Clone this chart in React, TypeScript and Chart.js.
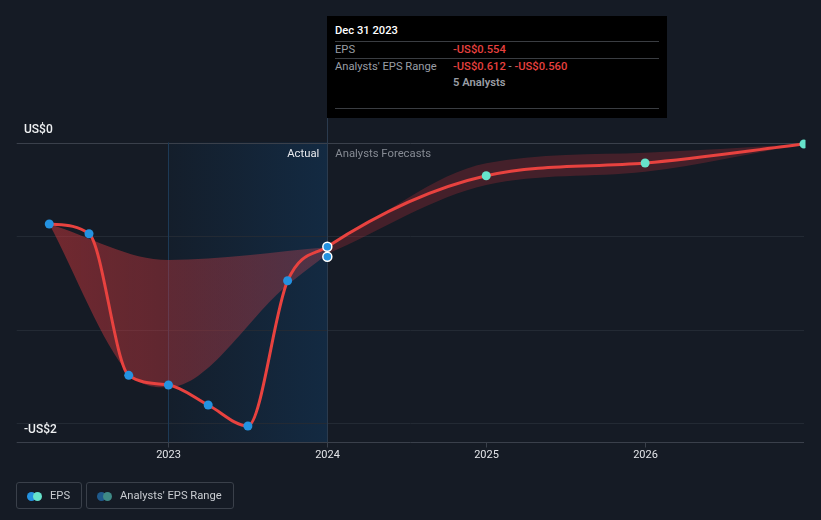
import React, { useEffect, useRef } from "react";
import { Chart, registerables } from "chart.js";

Chart.register(...registerables);

// ---- data (decimal years / US$ EPS) ----
const actualDates = [2022.25, 2022.5, 2022.75, 2023.0, 2023.25, 2023.5, 2023.75, 2024.0];
const actualEps = [-0.544, -0.609, -1.555, -1.619, -1.753, -1.893, -0.923, -0.696];
const forecastDates = [2025.0, 2026.0, 2027.0];
const forecastEps = [-0.222, -0.137, -0.01];
const estimateDates = [2024.0];
const estimateEps = [-0.763];
const rangeHighDates = [2022.25, 2023.0, 2024.0];
const rangeHigh = [-0.544, -0.785, -0.7];
const rangeLowDates = [2022.25, 2022.75, 2023.0, 2023.75, 2024.0];
const rangeLow = [-0.544, -1.539, -1.635, -0.952, -0.745];
const forecastRangeDates = [2024.0, 2025.0, 2026.0, 2027.0];
const forecastHigh = [-0.7, -0.139, -0.068, -0.01];
const forecastLow = [-0.745, -0.284, -0.195, -0.01];
const yearTicks = [2023, 2024, 2025, 2026];
const yearLabels = ["2023", "2024", "2025", "2026"];
const yGridValues = [0, -0.625, -1.25, -1.875];
const yLabelValues = [0, -2];
const yLabelTexts = ["US$0", "-US$2"];
const actualStart = 2023;
const actualEnd = 2024;

const FONT = "Roboto, 'Noto Sans', sans-serif";

const zip = (xs: number[], ys: number[]) => xs.map((x, i) => ({ x, y: ys[i] }));

const decorPlugin = {
  id: "decor",
  beforeDatasetsDraw(chart: any) {
    const { ctx, chartArea: a, scales } = chart;
    const xs = scales.x;
    const ys = scales.y;
    ctx.save();
    // highlighted "actual" region
    const x0 = xs.getPixelForValue(actualStart);
    const x1 = xs.getPixelForValue(actualEnd);
    const g = ctx.createLinearGradient(x0, 0, x1, 0);
    g.addColorStop(0, "#141e2b");
    g.addColorStop(1, "#132a42");
    ctx.fillStyle = g;
    ctx.fillRect(x0, a.top, x1 - x0, a.bottom - a.top);
    // grid lines
    yGridValues.forEach((v, i) => {
      const y = Math.round(ys.getPixelForValue(v)) + 0.5;
      ctx.strokeStyle = i === 0 ? "#3a404b" : "#232a34";
      ctx.lineWidth = 1;
      ctx.beginPath();
      ctx.moveTo(a.left, y);
      ctx.lineTo(a.right, y);
      ctx.stroke();
    });
    // axis line
    const yb = Math.round(ys.getPixelForValue(-2)) + 0.5;
    ctx.strokeStyle = "#3a404b";
    ctx.beginPath();
    ctx.moveTo(a.left, yb);
    ctx.lineTo(a.right, yb);
    ctx.stroke();
    // region boundary lines
    ctx.strokeStyle = "#1d3a56";
    ctx.beginPath();
    ctx.moveTo(Math.round(x0) + 0.5, a.top);
    ctx.lineTo(Math.round(x0) + 0.5, yb);
    ctx.stroke();
    ctx.strokeStyle = "#2b3b4e";
    ctx.beginPath();
    ctx.moveTo(Math.round(x1) + 0.5, 118);
    ctx.lineTo(Math.round(x1) + 0.5, yb);
    ctx.stroke();
    // year ticks & labels
    ctx.font = `11px ${FONT}`;
    ctx.textAlign = "center";
    ctx.textBaseline = "middle";
    yearTicks.forEach((t, i) => {
      const x = Math.round(xs.getPixelForValue(t)) + 0.5;
      ctx.strokeStyle = "#3a404b";
      ctx.beginPath();
      ctx.moveTo(x, yb);
      ctx.lineTo(x, yb + 5);
      ctx.stroke();
      ctx.fillStyle = "#e2e4e8";
      ctx.fillText(yearLabels[i], x, 455.5);
    });
    // y labels
    ctx.font = `500 12px ${FONT}`;
    ctx.textAlign = "left";
    ctx.textBaseline = "middle";
    ctx.fillStyle = "#eef0f2";
    yLabelValues.forEach((v, i) => {
      const y = ys.getPixelForValue(v) - 12.5;
      ctx.fillText(yLabelTexts[i], 24, y);
    });
    // region labels
    ctx.font = `11.3px ${FONT}`;
    ctx.textAlign = "right";
    ctx.fillStyle = "#e8eaee";
    ctx.fillText("Actual", x1 - 8, 154.5);
    ctx.textAlign = "left";
    ctx.fillStyle = "#868b94";
    ctx.fillText("Analysts Forecasts", x1 + 8, 154.5);
    ctx.restore();
  },
};

export default function App() {
  const ref = useRef<HTMLCanvasElement | null>(null);

  useEffect(() => {
    document.body.style.margin = "0";
    document.body.style.background = "#151b25";
    const canvas = ref.current;
    if (!canvas) return;

    const histFill = (c: any) => {
      const chart = c.chart;
      const a = chart.chartArea;
      if (!a) return "rgba(210,55,60,0.4)";
      const xs = chart.scales.x;
      const g = chart.ctx.createLinearGradient(xs.getPixelForValue(2022.25), 0, xs.getPixelForValue(2024), 0);
      g.addColorStop(0, "rgba(214,56,60,0.48)");
      g.addColorStop(0.5, "rgba(200,58,66,0.4)");
      g.addColorStop(1, "rgba(205,72,86,0.32)");
      return g;
    };

    const epsX = [...actualDates, ...forecastDates];
    const epsY = [...actualEps, ...forecastEps];
    const nA = actualDates.length;

    const chart = new Chart(canvas, {
      type: "line",
      data: {
        datasets: [
          {
            label: "EPS",
            data: zip(epsX, epsY),
            borderColor: "#e8423f",
            borderWidth: 3,
            cubicInterpolationMode: "monotone",
            pointRadius: 4.5,
            pointBackgroundColor: epsX.map((_, i) => (i < nA ? "#2492e0" : "#66e3cb")),
            pointBorderColor: epsX.map((_, i) => (i === nA - 1 ? "#ffffff" : "rgba(0,0,0,0)")),
            pointBorderWidth: epsX.map((_, i) => (i === nA - 1 ? 1.5 : 0)),
            fill: false,
            order: 1,
            clip: { left: 5, top: 10, right: 1.5, bottom: 5 },
          } as any,
          {
            label: "Estimate",
            data: zip(estimateDates, estimateEps),
            showLine: false,
            pointRadius: 4.5,
            pointBackgroundColor: "#2492e0",
            pointBorderColor: "#ffffff",
            pointBorderWidth: 1.5,
            order: 0,
          } as any,
          {
            label: "Analysts' EPS Range",
            data: zip(rangeHighDates, rangeHigh),
            borderWidth: 0,
            pointRadius: 0,
            cubicInterpolationMode: "monotone",
            fill: "+1",
            backgroundColor: histFill,
            order: 5,
          } as any,
          {
            label: "range-low",
            data: zip(rangeLowDates, rangeLow),
            borderWidth: 0,
            pointRadius: 0,
            cubicInterpolationMode: "monotone",
            fill: false,
            order: 6,
          } as any,
          {
            label: "forecast-high",
            data: zip(forecastRangeDates, forecastHigh),
            borderWidth: 0,
            pointRadius: 0,
            cubicInterpolationMode: "monotone",
            fill: "+1",
            backgroundColor: "rgba(196,48,54,0.27)",
            order: 5,
          } as any,
          {
            label: "forecast-low",
            data: zip(forecastRangeDates, forecastLow),
            borderWidth: 0,
            pointRadius: 0,
            cubicInterpolationMode: "monotone",
            fill: false,
            order: 6,
          } as any,
        ],
      },
      options: {
        animation: false,
        responsive: false,
        maintainAspectRatio: false,
        layout: { padding: { left: 16.7, right: 17, top: 142.5, bottom: 78 } },
        scales: {
          x: { type: "linear", min: 2022.045, max: 2027.0, display: false },
          y: { type: "linear", min: -2, max: 0, display: false },
        },
        plugins: {
          legend: { display: false },
          tooltip: { enabled: false },
        },
        events: [],
      } as any,
      plugins: [decorPlugin],
    });
    return () => chart.destroy();
  }, []);

  const tipText: React.CSSProperties = { position: "absolute", fontSize: 11.2, lineHeight: "14px", whiteSpace: "nowrap" };
  const sep = (top: number): React.CSSProperties => ({
    position: "absolute", left: 8, right: 8, top, height: 1, background: "#3a3d42",
  });
  const legendBox: React.CSSProperties = {
    position: "absolute", top: 482, height: 27, boxSizing: "border-box",
    border: "1px solid #3a404a", borderRadius: 3,
  };
  const dot = (left: number, color: string): React.CSSProperties => ({
    position: "absolute", left, top: 8.5, width: 9, height: 9, borderRadius: "50%", background: color,
  });
  const legendText: React.CSSProperties = {
    position: "absolute", top: 5.5, fontSize: 11.2, lineHeight: "14px", color: "#c9ccd1", whiteSpace: "nowrap",
  };

  return (
    <div style={{ position: "relative", width: 821, height: 520, background: "#151b25", fontFamily: FONT, overflow: "hidden" }}>
      <canvas ref={ref} width={821} height={520} style={{ position: "absolute", left: 0, top: 0, width: 821, height: 520 }} />
      {/* tooltip */}
      <div style={{ position: "absolute", left: 327, top: 16, width: 340, height: 102, background: "#000000" }}>
        <div style={{ ...tipText, left: 8, top: 8, color: "#ffffff", fontWeight: 500 }}>Dec 31 2023</div>
        <div style={sep(25)} />
        <div style={{ ...tipText, left: 8, top: 26.5, color: "#9a9ea5" }}>EPS</div>
        <div style={{ ...tipText, left: 126, top: 26.5, color: "#e8413f", fontWeight: 500 }}>-US$0.554</div>
        <div style={sep(42)} />
        <div style={{ ...tipText, left: 8, top: 43.5, color: "#9a9ea5" }}>Analysts' EPS Range</div>
        <div style={{ ...tipText, left: 126, top: 43.5, color: "#9a9ea5" }}>
          <span style={{ color: "#e8413f", fontWeight: 500 }}>-US$0.612</span>
          {" - "}
          <span style={{ color: "#e8413f", fontWeight: 500 }}>-US$0.560</span>
        </div>
        <div style={{ ...tipText, left: 126, top: 60, color: "#9a9ea5", fontWeight: 600 }}>5 Analysts</div>
        <div style={sep(92)} />
      </div>
      {/* legend */}
      <div style={{ ...legendBox, left: 16, width: 66 }}>
        <div style={dot(10, "#2492e0")} />
        <div style={dot(16, "#66e3cb")} />
        <div style={{ ...legendText, left: 33 }}>EPS</div>
      </div>
      <div style={{ ...legendBox, left: 86, width: 148 }}>
        <div style={dot(10, "#1f5a8c")} />
        <div style={dot(16, "#3f8a86")} />
        <div style={{ ...legendText, left: 33 }}>Analysts' EPS Range</div>
      </div>
    </div>
  );
}
